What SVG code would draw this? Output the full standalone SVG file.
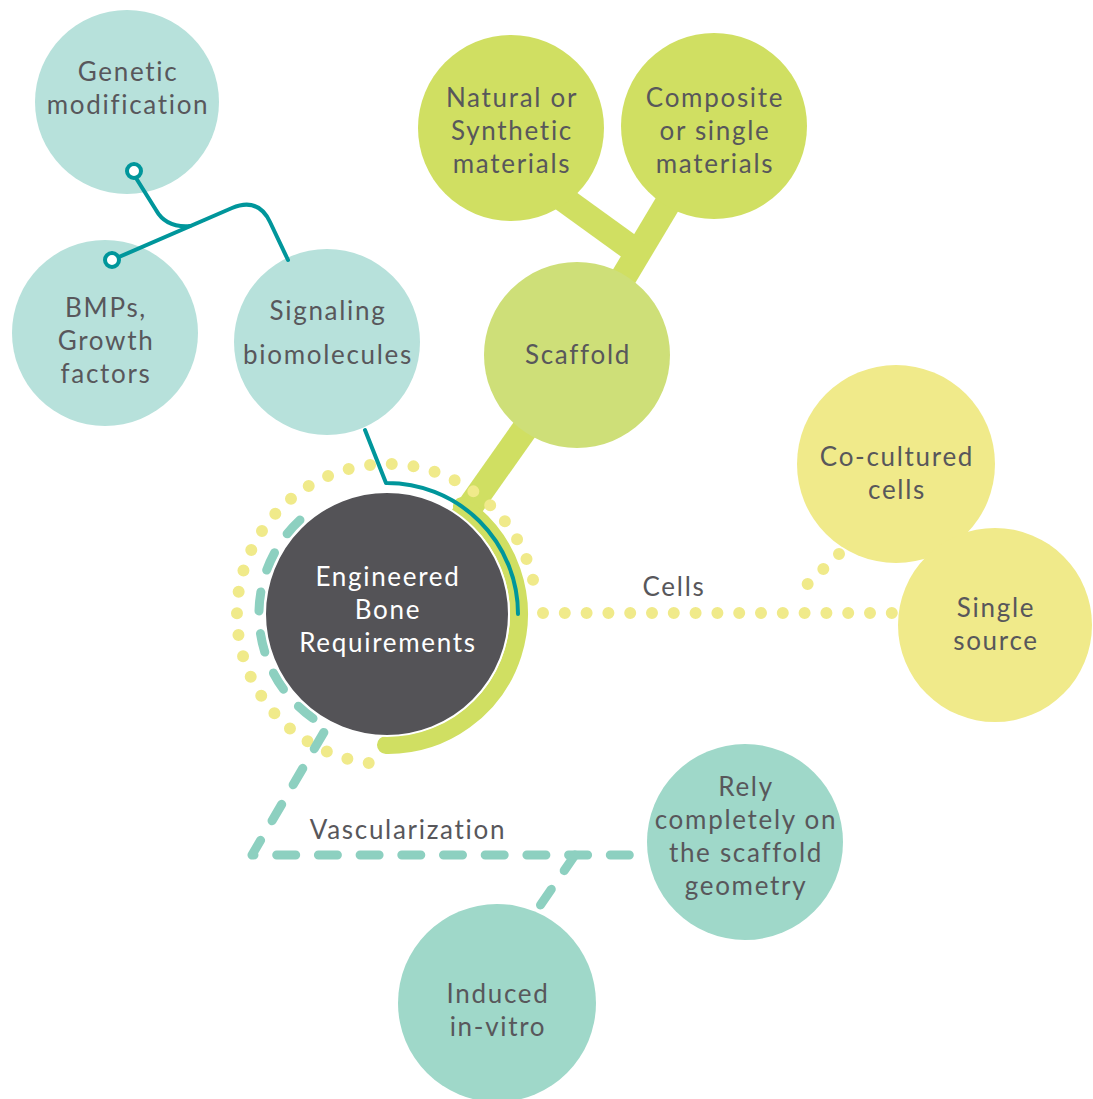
<svg xmlns="http://www.w3.org/2000/svg" width="1093" height="1099" viewBox="0 0 1093 1099">
<style>
text{font-family:Lato,"Open Sans","Liberation Sans",sans-serif;font-size:26px;letter-spacing:1.7px;fill:#58575b;text-anchor:middle}
.w{fill:#ffffff}
.teal{fill:#b7e1db}
.lime{fill:#d0df62}
.scaf{fill:#cedf78}
.yel{fill:#f0ea8a}
.mint{fill:#9fd8c9}
.tl{fill:none;stroke:#00969b;stroke-width:4;stroke-linecap:round;stroke-linejoin:round}
.stem{fill:none;stroke:#d0df62;stroke-width:26}
.dots{fill:none;stroke:#f0ea8a;stroke-width:12;stroke-linecap:round}
.dash{fill:none;stroke:#8dd0c0;stroke-width:9;stroke-linecap:round;stroke-linejoin:round;stroke-dasharray:19 22.7}
</style>
<g id="connectors">
<path class="stem" d="M577 355 L714 126"/>
<path class="stem" d="M540 182 L641 255"/>
<path class="stem" d="M577 355 L455 528"/>
<path d="M462 506 A131 131 0 0 1 386 745" fill="none" stroke="#d0df62" stroke-width="18" stroke-linecap="round"/>
<path class="dots" style="stroke-dasharray:0 21.79" d="M368.7 762.9 A150 150 0 1 1 536.4 600.9"/>
<path class="dots" style="stroke-dasharray:0 21.8" d="M543 613 H892"/>
<path class="dots" style="stroke-dasharray:0 21.7" d="M839 554 L792 599"/>
<path class="dash" d="M300 520 A128 128 0 0 0 327 727 L252 855 H642"/>
<path class="dash" d="M575 855 L537 910"/>
</g>
<g id="genetic"><circle class="teal" cx="127" cy="102" r="92"/><text x="128" y="81">Genetic</text><text x="128" y="114">modification</text></g>
<g id="bmps"><circle class="teal" cx="105" cy="333" r="93"/><text x="106" y="317">BMPs,</text><text x="106" y="350">Growth</text><text x="106" y="383">factors</text></g>
<g id="signaling"><circle class="teal" cx="327" cy="342" r="93"/><text x="328" y="320">Signaling</text><text x="328" y="364">biomolecules</text></g>
<g id="natural"><circle class="lime" cx="511" cy="128" r="93"/><text x="512" y="107">Natural or</text><text x="512" y="140">Synthetic</text><text x="512" y="173">materials</text></g>
<g id="composite"><circle class="lime" cx="714" cy="126" r="93"/><text x="715" y="107">Composite</text><text x="715" y="140">or single</text><text x="715" y="173">materials</text></g>
<g id="scaffold"><circle class="scaf" cx="577" cy="355" r="93"/><text x="578" y="364">Scaffold</text></g>
<g id="center"><circle cx="387" cy="614" r="122" fill="#545357" stroke="#fff" stroke-width="2"/><text class="w" x="388" y="586">Engineered</text><text class="w" x="388" y="619">Bone</text><text class="w" x="388" y="652">Requirements</text></g>
<g id="cocultured"><circle class="yel" cx="896" cy="464" r="99"/><text x="897" y="466">Co-cultured</text><text x="897" y="499">cells</text></g>
<g id="single"><circle class="yel" cx="995" cy="625" r="97"/><text x="996" y="617">Single</text><text x="996" y="650">source</text></g>
<g id="rely"><circle class="mint" cx="745" cy="842" r="98"/><text x="746" y="796">Rely</text><text x="746" y="829">completely on</text><text x="746" y="862">the scaffold</text><text x="746" y="895">geometry</text></g>
<g id="induced"><circle class="mint" cx="497" cy="1003" r="99"/><text x="498" y="1003">Induced</text><text x="498" y="1036">in-vitro</text></g>
<g id="signal-links">
<path class="tl" d="M112 260 L232 208 Q258 197 270 222 L288 260"/>
<path class="tl" d="M136 178 L156 210 Q166 228 190 226"/>
<path class="tl" d="M365 430 L386 483 A131 131 0 0 1 518 614"/>
<circle cx="134" cy="171" r="7" fill="#fff" stroke="#00969b" stroke-width="4"/>
<circle cx="112" cy="260" r="7" fill="#fff" stroke="#00969b" stroke-width="4"/>
</g>
<text x="674" y="596">Cells</text>
<text x="408" y="839">Vascularization</text>
</svg>
